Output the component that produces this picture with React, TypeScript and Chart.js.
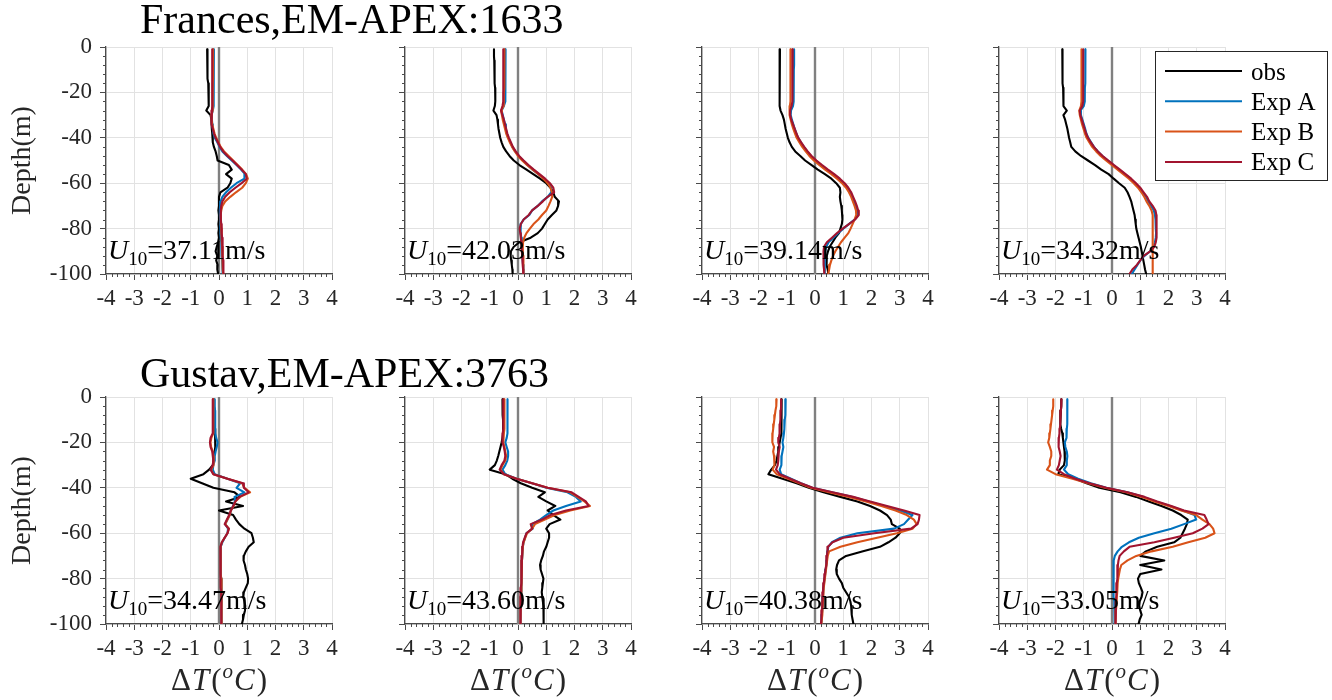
import { useEffect, useRef } from "react";
import { Chart, registerables } from "chart.js";

Chart.register(...registerables);

const FONT = "'Liberation Serif', 'Times New Roman', serif";
Chart.defaults.font.family = FONT;

// ---------- data ----------
const depth = [-1, -2, -4, -6, -8, -10, -12, -14, -16, -18, -20, -22, -24, -26, -28, -30, -32, -34, -36, -38, -40, -42, -44, -46, -48, -50, -52, -54, -56, -58, -60, -62, -64, -66, -68, -70, -72, -74, -76, -78, -80, -82, -84, -86, -88, -90, -92, -94, -96, -98, -100];

const seriesNames = ["obs", "Exp A", "Exp B", "Exp C"];
const seriesColors = ["#000000", "#0072BD", "#D95319", "#A2142F"];
const xTickStep = 1;
const yTickStep = 20;
const xRange = [-4, 4];
const yRange = [-100, 0];
const zeroLineX = [0, 0];
const zeroLineY = [0, -100];
const rowTitles = ["Frances,EM-APEX:1633", "Gustav,EM-APEX:3763"];
const windSpeeds = ["37.11", "42.03", "39.14", "34.32", "34.47", "43.60", "40.38", "33.05"];
const yAxisTitle = "Depth(m)";

// Frances
const fr1Obs = [-0.42, -0.42, -0.42, -0.41, -0.41, -0.4, -0.4, -0.39, -0.38, -0.37, -0.37, -0.36, -0.36, -0.36, -0.45, -0.3, -0.27, -0.26, -0.25, -0.24, -0.22, -0.22, -0.18, -0.12, -0.08, -0.05, 0.35, 0.45, 0.25, 0.45, 0.4, 0.3, 0.05, 0.0, 0.0, 0.0, -0.02, 0.0, 0.0, -0.02, 0.0, -0.02, 0.0, -0.03, -0.08, -0.12, -0.06, -0.1, -0.05, -0.06, -0.03];
const fr1ExpA = [-0.18, -0.18, -0.18, -0.18, -0.18, -0.18, -0.18, -0.19, -0.19, -0.19, -0.2, -0.2, -0.2, -0.2, -0.22, -0.26, -0.25, -0.24, -0.22, -0.2, -0.15, -0.06, 0.02, 0.12, 0.28, 0.45, 0.62, 0.78, 0.92, 0.9, 0.62, 0.42, 0.25, 0.12, 0.06, 0.04, 0.03, 0.03, 0.04, 0.05, 0.05, 0.06, 0.07, 0.08, 0.08, 0.09, 0.1, 0.11, 0.12, 0.13, 0.14];
const fr1ExpB = [-0.21, -0.21, -0.21, -0.21, -0.21, -0.21, -0.21, -0.21, -0.22, -0.22, -0.22, -0.22, -0.22, -0.22, -0.24, -0.27, -0.26, -0.24, -0.2, -0.16, -0.1, -0.02, 0.06, 0.18, 0.34, 0.5, 0.66, 0.82, 0.96, 1.02, 0.95, 0.82, 0.6, 0.4, 0.22, 0.12, 0.08, 0.06, 0.06, 0.07, 0.08, 0.09, 0.1, 0.1, 0.11, 0.12, 0.12, 0.13, 0.14, 0.14, 0.15];
const fr1ExpC = [-0.24, -0.24, -0.24, -0.24, -0.24, -0.24, -0.24, -0.24, -0.24, -0.24, -0.24, -0.24, -0.24, -0.24, -0.25, -0.28, -0.27, -0.25, -0.22, -0.18, -0.12, -0.04, 0.04, 0.15, 0.3, 0.48, 0.64, 0.8, 0.95, 0.98, 0.8, 0.58, 0.38, 0.22, 0.12, 0.08, 0.06, 0.06, 0.07, 0.08, 0.09, 0.1, 0.11, 0.12, 0.12, 0.13, 0.14, 0.15, 0.15, 0.16, 0.16];

const fr2Obs = [-0.85, -0.85, -0.85, -0.84, -0.84, -0.83, -0.83, -0.82, -0.82, -0.81, -0.81, -0.8, -0.8, -0.82, -0.87, -0.76, -0.73, -0.71, -0.69, -0.66, -0.63, -0.58, -0.52, -0.42, -0.3, -0.15, 0.05, 0.3, 0.54, 0.78, 1.0, 1.15, 1.25, 1.3, 1.45, 1.42, 1.36, 1.2, 1.05, 0.95, 0.85, 0.7, 0.45, 0.05, -0.15, -0.25, -0.26, -0.24, -0.22, -0.2, -0.19];
const fr2ExpA = [-0.44, -0.44, -0.44, -0.44, -0.44, -0.44, -0.44, -0.45, -0.45, -0.45, -0.46, -0.46, -0.46, -0.5, -0.58, -0.54, -0.5, -0.46, -0.43, -0.4, -0.34, -0.27, -0.2, -0.1, 0.02, 0.17, 0.33, 0.52, 0.72, 0.92, 1.08, 1.17, 1.18, 1.05, 0.85, 0.7, 0.5, 0.4, 0.2, 0.1, 0.08, 0.1, 0.12, 0.13, 0.14, 0.15, 0.16, 0.17, 0.18, 0.19, 0.2];
const fr2ExpB = [-0.48, -0.48, -0.48, -0.48, -0.48, -0.48, -0.48, -0.49, -0.49, -0.49, -0.5, -0.5, -0.5, -0.52, -0.6, -0.57, -0.54, -0.5, -0.46, -0.42, -0.36, -0.29, -0.21, -0.11, 0.0, 0.15, 0.32, 0.52, 0.72, 0.9, 1.05, 1.15, 1.2, 1.21, 1.15, 1.08, 1.0, 0.85, 0.72, 0.55, 0.42, 0.3, 0.22, 0.18, 0.17, 0.17, 0.18, 0.18, 0.19, 0.2, 0.2];
const fr2ExpC = [-0.52, -0.52, -0.52, -0.52, -0.52, -0.52, -0.52, -0.52, -0.52, -0.52, -0.52, -0.52, -0.52, -0.55, -0.6, -0.55, -0.5, -0.46, -0.42, -0.38, -0.32, -0.25, -0.18, -0.08, 0.04, 0.2, 0.37, 0.56, 0.76, 0.96, 1.13, 1.25, 1.28, 1.05, 0.88, 0.7, 0.5, 0.38, 0.2, 0.1, 0.06, 0.08, 0.1, 0.12, 0.13, 0.14, 0.15, 0.16, 0.17, 0.18, 0.19];

const fr3Obs = [-1.24, -1.24, -1.24, -1.24, -1.25, -1.25, -1.25, -1.25, -1.26, -1.26, -1.26, -1.26, -1.26, -1.26, -1.22, -1.15, -1.1, -1.07, -1.04, -1.0, -0.96, -0.9, -0.82, -0.7, -0.52, -0.35, -0.12, 0.1, 0.35, 0.58, 0.75, 0.88, 0.9, 0.88, 0.9, 0.93, 0.95, 0.96, 0.97, 0.95, 0.9, 0.85, 0.72, 0.62, 0.52, 0.46, 0.42, 0.4, 0.42, 0.45, 0.47];
const fr3ExpA = [-0.74, -0.74, -0.74, -0.74, -0.74, -0.75, -0.75, -0.75, -0.75, -0.76, -0.76, -0.76, -0.76, -0.78, -0.85, -0.86, -0.82, -0.77, -0.72, -0.66, -0.6, -0.5, -0.4, -0.28, -0.15, 0.02, 0.22, 0.42, 0.65, 0.85, 1.02, 1.15, 1.25, 1.32, 1.38, 1.44, 1.5, 1.52, 1.4, 1.2, 1.0, 0.82, 0.65, 0.48, 0.4, 0.36, 0.35, 0.35, 0.34, 0.34, 0.35];
const fr3ExpB = [-0.86, -0.86, -0.86, -0.86, -0.86, -0.86, -0.87, -0.87, -0.87, -0.87, -0.88, -0.88, -0.88, -0.89, -0.9, -0.9, -0.86, -0.82, -0.77, -0.71, -0.65, -0.55, -0.45, -0.33, -0.2, -0.04, 0.15, 0.36, 0.58, 0.78, 0.96, 1.1, 1.2, 1.28, 1.34, 1.4, 1.45, 1.46, 1.4, 1.33, 1.26, 1.18, 1.05, 0.92, 0.82, 0.72, 0.64, 0.58, 0.53, 0.5, 0.47];
const fr3ExpC = [-0.79, -0.79, -0.79, -0.79, -0.79, -0.8, -0.8, -0.8, -0.8, -0.8, -0.81, -0.81, -0.81, -0.83, -0.88, -0.88, -0.84, -0.78, -0.72, -0.66, -0.59, -0.49, -0.38, -0.26, -0.12, 0.05, 0.25, 0.46, 0.68, 0.88, 1.05, 1.18, 1.28, 1.35, 1.42, 1.48, 1.53, 1.55, 1.42, 1.2, 0.98, 0.78, 0.6, 0.42, 0.32, 0.3, 0.3, 0.3, 0.31, 0.32, 0.33];

const fr4Obs = [-1.76, -1.76, -1.76, -1.76, -1.75, -1.75, -1.75, -1.74, -1.74, -1.73, -1.73, -1.72, -1.72, -1.7, -1.6, -1.72, -1.66, -1.62, -1.58, -1.55, -1.52, -1.48, -1.44, -1.3, -1.1, -0.85, -0.6, -0.38, -0.12, 0.06, 0.25, 0.45, 0.55, 0.62, 0.68, 0.72, 0.76, 0.8, 0.82, 0.84, 0.86, 0.9, 0.94, 0.98, 1.02, 1.05, 1.08, 1.11, 1.14, 1.17, 1.21];
const fr4ExpA = [-0.94, -0.94, -0.94, -0.94, -0.94, -0.95, -0.95, -0.95, -0.95, -0.96, -0.96, -0.96, -0.97, -1.0, -1.12, -1.1, -1.05, -1.0, -0.95, -0.91, -0.84, -0.74, -0.64, -0.5, -0.34, -0.15, 0.05, 0.25, 0.45, 0.65, 0.82, 0.96, 1.08, 1.2, 1.28, 1.38, 1.48, 1.52, 1.54, 1.55, 1.55, 1.56, 1.55, 1.52, 1.48, 1.35, 1.15, 1.0, 0.9, 0.8, 0.7];
const fr4ExpB = [-1.08, -1.08, -1.08, -1.08, -1.08, -1.08, -1.08, -1.08, -1.08, -1.08, -1.08, -1.08, -1.08, -1.1, -1.16, -1.14, -1.1, -1.06, -1.01, -0.96, -0.9, -0.8, -0.7, -0.56, -0.4, -0.21, -0.01, 0.2, 0.4, 0.6, 0.77, 0.92, 1.04, 1.14, 1.22, 1.32, 1.4, 1.44, 1.45, 1.45, 1.45, 1.45, 1.45, 1.45, 1.45, 1.45, 1.44, 1.43, 1.42, 1.42, 1.42];
const fr4ExpC = [-1.02, -1.02, -1.02, -1.02, -1.02, -1.02, -1.02, -1.02, -1.02, -1.02, -1.02, -1.02, -1.02, -1.05, -1.14, -1.12, -1.07, -1.02, -0.97, -0.92, -0.85, -0.75, -0.64, -0.5, -0.33, -0.13, 0.07, 0.28, 0.48, 0.68, 0.85, 1.0, 1.12, 1.24, 1.32, 1.44, 1.54, 1.57, 1.58, 1.58, 1.58, 1.58, 1.57, 1.55, 1.5, 1.35, 1.12, 1.0, 0.88, 0.72, 0.62];

// Gustav
const gu1Obs = [-0.19, -0.19, -0.18, -0.18, -0.17, -0.16, -0.15, -0.14, -0.14, -0.13, -0.12, -0.14, -0.15, -0.18, -0.2, -0.22, -0.35, -0.55, -1.0, -0.6, -0.2, 0.55, 0.75, 0.25, 0.85, 0.0, 0.5, 0.6, 0.72, 0.9, 1.15, 1.2, 1.23, 1.05, 0.95, 0.88, 0.87, 0.92, 0.95, 1.0, 1.03, 1.02, 0.95, 0.88, 0.86, 0.9, 0.93, 0.92, 0.88, 0.85, 0.81];
const gu1ExpA = [-0.15, -0.15, -0.15, -0.14, -0.14, -0.14, -0.13, -0.13, -0.13, -0.1, -0.05, -0.08, -0.12, -0.15, -0.15, -0.2, -0.22, -0.15, 0.3, 0.75, 0.62, 0.9, 0.55, 0.56, 0.5, 0.42, 0.38, 0.3, 0.22, 0.32, 0.3, 0.2, 0.12, 0.06, 0.05, 0.05, 0.06, 0.06, 0.07, 0.07, 0.08, 0.08, 0.08, 0.09, 0.09, 0.09, 0.1, 0.1, 0.1, 0.1, 0.1];
const gu1ExpB = [-0.2, -0.2, -0.2, -0.2, -0.2, -0.2, -0.2, -0.2, -0.21, -0.27, -0.3, -0.28, -0.22, -0.2, -0.18, -0.2, -0.28, -0.2, 0.3, 0.82, 0.9, 1.1, 0.75, 0.58, 0.52, 0.42, 0.38, 0.3, 0.22, 0.35, 0.3, 0.2, 0.1, 0.06, 0.05, 0.05, 0.06, 0.06, 0.07, 0.07, 0.08, 0.08, 0.08, 0.09, 0.09, 0.09, 0.1, 0.1, 0.1, 0.1, 0.1];
const gu1ExpC = [-0.22, -0.22, -0.22, -0.22, -0.22, -0.22, -0.22, -0.22, -0.23, -0.3, -0.32, -0.3, -0.24, -0.22, -0.2, -0.22, -0.3, -0.2, 0.3, 0.85, 0.88, 1.05, 0.72, 0.58, 0.5, 0.42, 0.36, 0.28, 0.2, 0.35, 0.3, 0.2, 0.1, 0.05, 0.04, 0.04, 0.05, 0.05, 0.06, 0.06, 0.07, 0.07, 0.07, 0.08, 0.08, 0.08, 0.08, 0.08, 0.08, 0.08, 0.08];

const gu2Obs = [-0.55, -0.55, -0.55, -0.54, -0.54, -0.53, -0.53, -0.53, -0.52, -0.55, -0.58, -0.62, -0.66, -0.7, -0.75, -0.82, -1.0, -0.45, -0.2, 0.1, 0.5, 0.95, 0.72, 1.0, 1.32, 1.05, 1.25, 1.5, 1.12, 1.0, 1.1, 1.1, 1.05, 1.0, 0.92, 0.88, 0.82, 0.78, 0.8, 0.85, 0.9, 0.88, 0.86, 0.84, 0.86, 0.88, 0.9, 0.92, 0.91, 0.9, 0.9];
const gu2ExpA = [-0.37, -0.37, -0.37, -0.37, -0.37, -0.37, -0.37, -0.38, -0.38, -0.4, -0.45, -0.4, -0.35, -0.35, -0.38, -0.45, -0.55, -0.45, -0.05, 0.5, 1.0, 1.75, 2.05, 2.22, 1.7, 1.25, 1.0, 0.78, 0.5, 0.52, 0.3, 0.25, 0.2, 0.17, 0.16, 0.15, 0.14, 0.14, 0.13, 0.13, 0.12, 0.12, 0.11, 0.11, 0.1, 0.1, 0.09, 0.09, 0.09, 0.08, 0.08];
const gu2ExpB = [-0.48, -0.48, -0.48, -0.48, -0.48, -0.48, -0.48, -0.49, -0.5, -0.52, -0.52, -0.48, -0.45, -0.42, -0.45, -0.55, -0.62, -0.5, -0.05, 0.5, 1.05, 1.85, 2.1, 2.35, 2.55, 1.85, 1.3, 0.95, 0.6, 0.5, 0.32, 0.26, 0.2, 0.17, 0.16, 0.15, 0.14, 0.14, 0.13, 0.13, 0.12, 0.12, 0.11, 0.11, 0.1, 0.1, 0.09, 0.09, 0.09, 0.08, 0.08];
const gu2ExpC = [-0.52, -0.52, -0.52, -0.52, -0.52, -0.52, -0.52, -0.53, -0.54, -0.55, -0.55, -0.5, -0.47, -0.45, -0.48, -0.58, -0.65, -0.5, -0.05, 0.5, 1.05, 1.9, 2.15, 2.4, 2.5, 1.7, 1.15, 0.85, 0.45, 0.5, 0.3, 0.24, 0.18, 0.16, 0.15, 0.14, 0.13, 0.13, 0.12, 0.12, 0.11, 0.11, 0.1, 0.1, 0.1, 0.09, 0.09, 0.09, 0.08, 0.08, 0.08];

const gu3Obs = [-1.18, -1.18, -1.18, -1.18, -1.19, -1.19, -1.19, -1.2, -1.2, -1.22, -1.25, -1.28, -1.3, -1.33, -1.36, -1.42, -1.55, -1.65, -1.15, -0.65, -0.22, 0.3, 0.9, 1.5, 1.95, 2.3, 2.55, 2.68, 2.72, 3.0, 3.0, 2.85, 2.6, 2.3, 1.7, 1.1, 0.85, 0.78, 0.75, 0.77, 0.85, 0.95, 1.0, 1.1, 1.2, 1.25, 1.28, 1.3, 1.3, 1.33, 1.36];
const gu3ExpA = [-1.04, -1.04, -1.05, -1.05, -1.06, -1.07, -1.08, -1.09, -1.1, -1.12, -1.15, -1.12, -1.15, -1.18, -1.2, -1.18, -1.25, -1.2, -0.85, -0.5, -0.1, 0.6, 1.3, 1.9, 2.45, 3.0, 3.45, 3.3, 3.15, 2.8, 1.5, 0.9, 0.6, 0.47, 0.45, 0.43, 0.42, 0.4, 0.38, 0.36, 0.34, 0.32, 0.3, 0.29, 0.28, 0.27, 0.26, 0.25, 0.24, 0.23, 0.22];
const gu3ExpB = [-1.36, -1.36, -1.38, -1.4, -1.42, -1.44, -1.46, -1.48, -1.5, -1.52, -1.5, -1.45, -1.48, -1.45, -1.42, -1.45, -1.5, -1.35, -0.95, -0.55, -0.15, 0.5, 1.2, 1.8, 2.35, 2.85, 3.25, 3.5, 3.6, 3.45, 2.9, 2.2, 1.5, 0.9, 0.5, 0.45, 0.43, 0.41, 0.39, 0.37, 0.35, 0.33, 0.31, 0.3, 0.29, 0.28, 0.27, 0.26, 0.25, 0.24, 0.23];
const gu3ExpC = [-1.2, -1.2, -1.2, -1.21, -1.22, -1.23, -1.24, -1.25, -1.26, -1.28, -1.3, -1.25, -1.28, -1.3, -1.3, -1.32, -1.38, -1.25, -0.88, -0.5, -0.08, 0.62, 1.35, 1.95, 2.55, 3.15, 3.7, 3.68, 3.63, 3.4, 2.1, 1.0, 0.62, 0.46, 0.44, 0.42, 0.41, 0.39, 0.37, 0.35, 0.33, 0.31, 0.29, 0.28, 0.27, 0.26, 0.25, 0.24, 0.23, 0.22, 0.21];

const gu4Obs = [-1.79, -1.79, -1.8, -1.81, -1.82, -1.83, -1.84, -1.8, -1.76, -1.74, -1.72, -1.7, -1.68, -1.67, -1.67, -1.7, -1.85, -1.9, -1.3, -0.9, -0.45, 0.3, 0.85, 1.3, 1.75, 2.15, 2.45, 2.68, 2.65, 2.58, 2.5, 2.42, 2.2, 1.6, 1.2, 1.0, 1.85, 1.0, 1.75, 1.0, 0.92, 0.95, 1.02, 1.08, 1.05, 0.98, 0.96, 1.0, 1.05, 0.98, 0.94];
const gu4ExpA = [-1.58, -1.58, -1.58, -1.58, -1.58, -1.59, -1.59, -1.6, -1.6, -1.62, -1.67, -1.65, -1.6, -1.58, -1.6, -1.6, -1.7, -1.55, -1.2, -0.75, -0.2, 0.55, 1.1, 1.55, 2.05, 2.5, 2.92, 2.98, 2.55, 2.1, 1.5, 0.95, 0.6, 0.35, 0.2, 0.1, 0.06, 0.04, 0.04, 0.05, 0.05, 0.06, 0.06, 0.07, 0.07, 0.08, 0.08, 0.09, 0.09, 0.1, 0.1];
const gu4ExpB = [-2.08, -2.08, -2.08, -2.1, -2.12, -2.14, -2.16, -2.18, -2.2, -2.22, -2.26, -2.2, -2.15, -2.15, -2.2, -2.2, -2.3, -2.0, -1.4, -0.85, -0.25, 0.5, 1.05, 1.5, 2.0, 2.45, 2.98, 3.2, 3.45, 3.58, 3.63, 3.3, 2.7, 2.15, 1.4, 0.86, 0.55, 0.33, 0.28, 0.25, 0.22, 0.2, 0.19, 0.18, 0.17, 0.16, 0.15, 0.14, 0.13, 0.12, 0.12];
const gu4ExpC = [-1.79, -1.79, -1.8, -1.81, -1.82, -1.83, -1.84, -1.85, -1.86, -1.88, -1.9, -1.88, -1.85, -1.82, -1.85, -1.88, -1.95, -1.7, -1.3, -0.8, -0.2, 0.55, 1.15, 1.6, 2.1, 2.55, 3.27, 3.35, 3.42, 3.2, 2.86, 2.2, 1.5, 0.62, 0.42, 0.27, 0.23, 0.21, 0.2, 0.19, 0.18, 0.17, 0.16, 0.15, 0.15, 0.14, 0.14, 0.13, 0.13, 0.12, 0.12];

const panelSeries = [
  [fr1Obs, fr1ExpA, fr1ExpB, fr1ExpC],
  [fr2Obs, fr2ExpA, fr2ExpB, fr2ExpC],
  [fr3Obs, fr3ExpA, fr3ExpB, fr3ExpC],
  [fr4Obs, fr4ExpA, fr4ExpB, fr4ExpC],
  [gu1Obs, gu1ExpA, gu1ExpB, gu1ExpC],
  [gu2Obs, gu2ExpA, gu2ExpB, gu2ExpC],
  [gu3Obs, gu3ExpA, gu3ExpB, gu3ExpC],
  [gu4Obs, gu4ExpA, gu4ExpB, gu4ExpC],
];

// ---------- layout ----------
const PAGE_W = 1332;
const PAGE_H = 700;
const COL_LEFT = [106, 405, 702, 999];
const ROW_TOP = [47, 397];
const PLOT_W = 226;
const PLOT_H = 227;
const AXIS_COLOR = "#4a4a4a";
const TEXT_COLOR = "#262626";
const GRID_COLOR = "#e2e2e2";
const TICK_FONT_SIZE = 23;

type Run = { t: string; f: string; dy?: number; gap?: number };

function drawRuns(ctx: CanvasRenderingContext2D, runs: Run[], x: number, y: number, align: "left" | "center" = "left") {
  let total = 0;
  for (const r of runs) {
    ctx.font = r.f;
    total += ctx.measureText(r.t).width + (r.gap || 0);
  }
  let cx = align === "center" ? x - total / 2 : x;
  ctx.textAlign = "left";
  ctx.textBaseline = "alphabetic";
  for (const r of runs) {
    ctx.font = r.f;
    ctx.fillText(r.t, cx, y + (r.dy || 0));
    cx += ctx.measureText(r.t).width + (r.gap || 0);
  }
}

function makeDecor(i: number) {
  const row = Math.floor(i / 4);
  const col = i % 4;
  return {
    id: "decor" + i,
    afterDraw(chart: any) {
      const { ctx, chartArea: a, scales } = chart;
      const xs = scales.x;
      const ys = scales.y;
      ctx.save();
      // minor ticks
      ctx.strokeStyle = AXIS_COLOR;
      ctx.lineWidth = 1;
      ctx.beginPath();
      for (let k = xRange[0] * 5; k <= xRange[1] * 5; k++) {
        if (k % 5 === 0) continue;
        const px = Math.round(xs.getPixelForValue(k / 5)) + 0.5;
        ctx.moveTo(px, a.bottom);
        ctx.lineTo(px, a.bottom + 3);
      }
      for (let k = yRange[0] / 4; k <= yRange[1] / 4; k++) {
        if (k % 5 === 0) continue;
        const py = Math.round(ys.getPixelForValue(k * 4)) + 0.5;
        ctx.moveTo(a.left - 3, py);
        ctx.lineTo(a.left, py);
      }
      ctx.stroke();

      // wind speed annotation
      ctx.fillStyle = "#000";
      drawRuns(
        ctx,
        [
          { t: "U", f: `italic 28px ${FONT}` },
          { t: "10", f: `19px ${FONT}`, dy: 6 },
          { t: "=" + windSpeeds[i] + "m/s", f: `28px ${FONT}` },
        ],
        a.left + 2,
        a.top + 212
      );

      // x axis title (bottom row)
      if (row === 1) {
        ctx.fillStyle = TEXT_COLOR;
        drawRuns(
          ctx,
          [
            { t: "Δ", f: `31px ${FONT}`, gap: 1 },
            { t: "T", f: `italic 31px ${FONT}`, gap: 2 },
            { t: "(", f: `31px ${FONT}`, gap: 1 },
            { t: "o", f: `italic 21px ${FONT}`, dy: -12, gap: 1 },
            { t: "C", f: `italic 31px ${FONT}`, gap: 2 },
            { t: ")", f: `31px ${FONT}` },
          ],
          (a.left + a.right) / 2,
          a.bottom + 66,
          "center"
        );
      }

      // row title
      if (col === 0) {
        ctx.fillStyle = "#000";
        ctx.font = `42px ${FONT}`;
        ctx.textAlign = "left";
        ctx.textBaseline = "alphabetic";
        ctx.fillText(rowTitles[row], 140, a.top - (row === 0 ? 14 : 10));
      }

      // legend
      if (i === 3) {
        const lx = 1155;
        const ly = 51;
        const lw = 172;
        const lh = 129;
        ctx.fillStyle = "#ffffff";
        ctx.fillRect(lx, ly, lw, lh);
        ctx.strokeStyle = TEXT_COLOR;
        ctx.lineWidth = 1;
        ctx.strokeRect(lx + 0.5, ly + 0.5, lw, lh);
        ctx.font = `25px ${FONT}`;
        ctx.textAlign = "left";
        ctx.textBaseline = "middle";
        seriesNames.forEach((name, s) => {
          const ry = ly + 20 + s * 30.3;
          ctx.strokeStyle = seriesColors[s];
          ctx.lineWidth = 2;
          ctx.beginPath();
          ctx.moveTo(lx + 10, ry);
          ctx.lineTo(lx + 87, ry);
          ctx.stroke();
          ctx.fillStyle = "#000";
          ctx.fillText(name, lx + 96, ry + 2);
        });
      }
      ctx.restore();
    },
  };
}

function buildConfig(i: number): any {
  const row = Math.floor(i / 4);
  const col = i % 4;
  const L = COL_LEFT[col];
  const T = ROW_TOP[row];
  const yW = col === 0 ? L - 4 : 20;
  const xH = 40;

  const zero = {
    label: "zero",
    data: zeroLineX.map((x, k) => ({ x, y: zeroLineY[k] })),
    borderColor: "#808080",
    borderWidth: 2.4,
    order: 10,
  };
  const profiles = panelSeries[i].map((vals, s) => ({
    label: seriesNames[s],
    data: vals.map((v, k) => ({ x: v, y: depth[k] })),
    borderColor: seriesColors[s],
    borderWidth: 2.1,
    order: 4 - s,
  }));

  return {
    type: "scatter",
    data: {
      datasets: [zero, ...profiles].map((d) => ({
        ...d,
        showLine: true,
        pointRadius: 0,
        pointHoverRadius: 0,
        fill: false,
        tension: 0,
        borderJoinStyle: "round",
        borderCapStyle: "round",
      })),
    },
    options: {
      responsive: false,
      animation: false,
      events: [],
      layout: {
        padding: {
          left: L - yW,
          top: T,
          right: PAGE_W - L - PLOT_W,
          bottom: PAGE_H - T - PLOT_H - xH,
        },
      },
      plugins: {
        legend: { display: false },
        tooltip: { enabled: false },
        title: { display: false },
      },
      scales: {
        x: {
          type: "linear",
          position: "bottom",
          min: xRange[0],
          max: xRange[1],
          ticks: {
            stepSize: xTickStep,
            autoSkip: false,
            maxRotation: 0,
            minRotation: 0,
            padding: 5,
            color: TEXT_COLOR,
            font: { family: FONT, size: TICK_FONT_SIZE },
            callback: (v: number) => String(v),
          },
          grid: {
            color: GRID_COLOR,
            lineWidth: 1,
            drawTicks: true,
            tickLength: 6,
            tickColor: AXIS_COLOR,
            tickWidth: 1,
          },
          border: { display: true, color: AXIS_COLOR, width: 1.3 },
          afterFit: (s: any) => {
            s.height = xH;
          },
        },
        y: {
          type: "linear",
          position: "left",
          min: yRange[0],
          max: yRange[1],
          ticks: {
            stepSize: yTickStep,
            display: col === 0,
            padding: 8,
            color: TEXT_COLOR,
            font: { family: FONT, size: TICK_FONT_SIZE },
            callback: (v: number) => String(v),
          },
          title: {
            display: col === 0,
            text: yAxisTitle,
            color: TEXT_COLOR,
            font: { family: FONT, size: 28 },
            padding: { top: 2, bottom: 0 },
          },
          grid: {
            color: GRID_COLOR,
            lineWidth: 1,
            drawTicks: true,
            tickLength: 6,
            tickColor: AXIS_COLOR,
            tickWidth: 1,
          },
          border: { display: true, color: AXIS_COLOR, width: 1.3 },
          afterFit: (s: any) => {
            s.width = yW;
          },
        },
      },
    },
    plugins: [makeDecor(i)],
  };
}

export default function App() {
  const refs = useRef<(HTMLCanvasElement | null)[]>([]);

  useEffect(() => {
    const charts = panelSeries.map((_, i) => new Chart(refs.current[i] as HTMLCanvasElement, buildConfig(i)));
    return () => {
      charts.forEach((c) => c.destroy());
    };
  }, []);

  return (
    <div
      style={{
        position: "absolute",
        left: 0,
        top: 0,
        width: PAGE_W,
        height: PAGE_H,
        background: "#ffffff",
        overflow: "hidden",
      }}
    >
      {panelSeries.map((_, i) => (
        <canvas
          key={i}
          ref={(el) => {
            refs.current[i] = el;
          }}
          width={PAGE_W}
          height={PAGE_H}
          style={{ position: "absolute", left: 0, top: 0, width: PAGE_W, height: PAGE_H }}
        />
      ))}
    </div>
  );
}
